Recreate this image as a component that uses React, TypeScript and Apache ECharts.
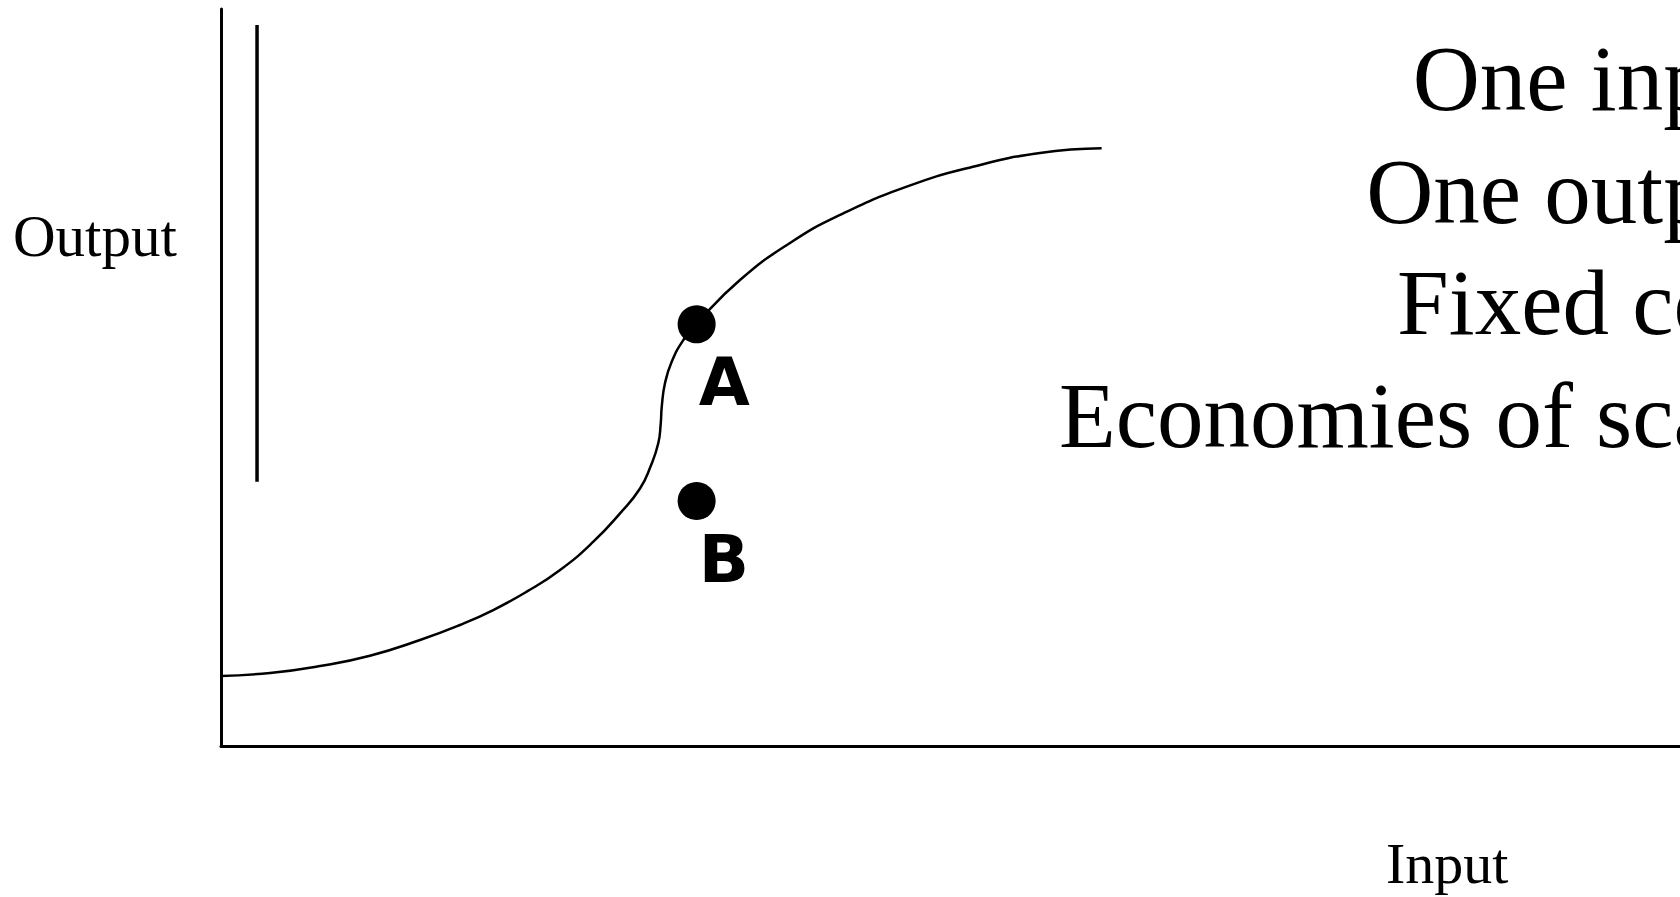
import React, { useEffect, useRef } from "react";
import * as echarts from "echarts";

// Production function curve (input, output)
const curveInput = [0, 3.36, 6.79, 10.21, 13.64, 16.38, 18.66, 20.95, 23.24, 25.52, 27.35, 28.72, 29.44, 29.97, 30.14, 30.21, 30.43, 30.89, 31.69, 32.63, 35.57, 39.0, 42.43, 47.0, 51.54, 56.13, 60.36];
const curveOutput = [9.5, 9.91, 10.85, 12.25, 14.38, 16.42, 18.45, 20.94, 23.88, 27.72, 31.57, 34.94, 37.92, 41.07, 43.79, 46.04, 49.21, 52.14, 55.09, 57.39, 63.23, 68.25, 72.05, 75.89, 78.6, 80.46, 81.1];

// Vertical bar near the output axis
const barInput = [2.47, 2.47];
const barOutput = [35.86, 97.83];

// Points A and B
const pointNames = ["A", "B"];
const pointInput = [32.6, 32.6];
const pointOutput = [57.22, 33.24];

// Text
const axisXName = "Input";
const axisYName = "Output";
const noteLines = ["One input", "One output", "Fixed cost", "Economies of scale"];

export default function App() {
  const ref = useRef<HTMLDivElement>(null);
  useEffect(() => {
    if (!ref.current) return;
    const chart = echarts.init(ref.current, null, { renderer: "svg" });
    const serif = "'Liberation Serif', 'Times New Roman', serif";
    const noteBaselines = [110, 222.7, 334.3, 446.7];
    const bigSize = 93;
    chart.setOption({
      animation: false,
      backgroundColor: "#ffffff",
      grid: { left: 221, right: 0, top: 9, bottom: 151 },
      xAxis: {
        type: "value",
        min: 0,
        max: 100,
        axisLine: { show: true, lineStyle: { color: "#000", width: 3 } },
        axisTick: { show: false },
        axisLabel: { show: false },
        splitLine: { show: false },
      },
      yAxis: {
        type: "value",
        min: 0,
        max: 100,
        axisLine: { show: true, lineStyle: { color: "#000", width: 3 } },
        axisTick: { show: false },
        axisLabel: { show: false },
        splitLine: { show: false },
      },
      series: [
        {
          type: "line",
          data: curveInput.map((x, i) => [x, curveOutput[i]]),
          smooth: 0.5,
          showSymbol: false,
          lineStyle: { color: "#000", width: 2.5 },
          silent: true,
        },
        {
          type: "line",
          data: barInput.map((x, i) => [x, barOutput[i]]),
          showSymbol: false,
          lineStyle: { color: "#000", width: 3.5, cap: "butt" },
          silent: true,
        },
        {
          type: "scatter",
          symbol: "circle",
          symbolSize: 38,
          itemStyle: { color: "#000", opacity: 1 },
          data: pointNames.map((n, i) => ({
            name: n,
            value: [pointInput[i], pointOutput[i]],
          })),
          label: {
            show: true,
            formatter: "{b}",
            position: [21, 77],
            align: "left",
            verticalAlign: "middle",
            fontFamily: "'DejaVu Sans', sans-serif",
            fontWeight: "bold",
            fontSize: 66,
            color: "#000",
            opacity: 1,
          },
          silent: true,
        },
      ],
      graphic: [
        {
          type: "text",
          x: 13,
          y: 255.7 - 0.3375 * 59,
          style: {
            text: axisYName,
            font: `59px ${serif}`,
            fill: "#000",
            textAlign: "left",
            textVerticalAlign: "middle",
          },
        },
        {
          type: "text",
          x: 1386,
          y: 883 - 0.3375 * 58,
          style: {
            text: axisXName,
            font: `58px ${serif}`,
            fill: "#000",
            textAlign: "left",
            textVerticalAlign: "middle",
          },
        },
        ...noteLines.map((t, i) => ({
          type: "text",
          x: 1782,
          y: noteBaselines[i] - 0.3375 * bigSize,
          style: {
            text: t,
            font: `${bigSize}px ${serif}`,
            fill: "#000",
            textAlign: "right",
            textVerticalAlign: "middle",
          },
        })),
      ],
    });
    return () => chart.dispose();
  }, []);
  return (
    <div
      ref={ref}
      style={{ position: "absolute", left: 0, top: 0, width: 1680, height: 897, background: "#fff" }}
    />
  );
}
